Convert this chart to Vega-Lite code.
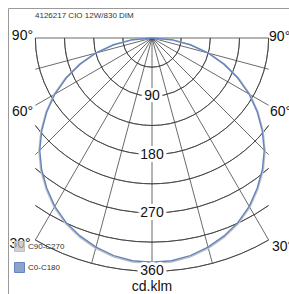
{
  "$schema": "https://vega.github.io/schema/vega-lite/v6.json",
  "width": 285,
  "height": 290,
  "autosize": "none",
  "padding": {"left": 8, "top": 8, "right": -4, "bottom": -4},
  "background": "white",
  "title": {"text": "4126217 CIO 12W/830 DIM", "anchor": "start", "frame": "group", "orient": "top", "offset": 0, "baseline": "middle", "dx": 27, "dy": 16, "font": "Liberation Sans", "fontSize": 8, "fontWeight": "normal", "color": "#333333"},
  "config": {"view": {"stroke": "#9a9a9a", "strokeWidth": 1}, "font": "Liberation Sans"},
  "datasets": {
    "circles": [
      {"r": 45, "t1": 90, "t2": 270},
      {"r": 90, "t1": 90, "t2": 270},
      {"r": 135, "t1": 90, "t2": 270},
      {"r": 180, "t1": 90, "t2": 270},
      {"r": 225, "t1": 126.87, "t2": 233.13},
      {"r": 270, "t1": 138.19, "t2": 221.81},
      {"r": 315, "t1": 145.15, "t2": 214.85},
      {"r": 360, "t1": 150, "t2": 210}
    ],
    "spokes": [
      {"g": -90, "L": 180}, {"g": -75, "L": 186.35}, {"g": -60, "L": 207.85}, {"g": -45, "L": 254.56},
      {"g": -30, "L": 360}, {"g": -15, "L": 360}, {"g": 0, "L": 360}, {"g": 15, "L": 360},
      {"g": 30, "L": 360}, {"g": 45, "L": 254.56}, {"g": 60, "L": 207.85}, {"g": 75, "L": 186.35}, {"g": 90, "L": 180}
    ],
    "curves": [
      {"series": "C90-C270", "g": -90, "I": 0}, {"series": "C90-C270", "g": -85, "I": 31}, {"series": "C90-C270", "g": -80, "I": 61},
      {"series": "C90-C270", "g": -75, "I": 91}, {"series": "C90-C270", "g": -70, "I": 120}, {"series": "C90-C270", "g": -65, "I": 148},
      {"series": "C90-C270", "g": -60, "I": 175}, {"series": "C90-C270", "g": -55, "I": 200}, {"series": "C90-C270", "g": -50, "I": 224},
      {"series": "C90-C270", "g": -45, "I": 247}, {"series": "C90-C270", "g": -40, "I": 267}, {"series": "C90-C270", "g": -35, "I": 285},
      {"series": "C90-C270", "g": -30, "I": 302}, {"series": "C90-C270", "g": -25, "I": 316}, {"series": "C90-C270", "g": -20, "I": 327},
      {"series": "C90-C270", "g": -15, "I": 336}, {"series": "C90-C270", "g": -10, "I": 343}, {"series": "C90-C270", "g": -5, "I": 347},
      {"series": "C90-C270", "g": 0, "I": 348},
      {"series": "C90-C270", "g": 5, "I": 347}, {"series": "C90-C270", "g": 10, "I": 343}, {"series": "C90-C270", "g": 15, "I": 336},
      {"series": "C90-C270", "g": 20, "I": 327}, {"series": "C90-C270", "g": 25, "I": 316}, {"series": "C90-C270", "g": 30, "I": 302},
      {"series": "C90-C270", "g": 35, "I": 285}, {"series": "C90-C270", "g": 40, "I": 267}, {"series": "C90-C270", "g": 45, "I": 247},
      {"series": "C90-C270", "g": 50, "I": 224}, {"series": "C90-C270", "g": 55, "I": 200}, {"series": "C90-C270", "g": 60, "I": 175},
      {"series": "C90-C270", "g": 65, "I": 148}, {"series": "C90-C270", "g": 70, "I": 120}, {"series": "C90-C270", "g": 75, "I": 91},
      {"series": "C90-C270", "g": 80, "I": 61}, {"series": "C90-C270", "g": 85, "I": 31}, {"series": "C90-C270", "g": 90, "I": 0},
      {"series": "C0-C180", "g": -90, "I": 0}, {"series": "C0-C180", "g": -85, "I": 30}, {"series": "C0-C180", "g": -80, "I": 60},
      {"series": "C0-C180", "g": -75, "I": 90}, {"series": "C0-C180", "g": -70, "I": 118}, {"series": "C0-C180", "g": -65, "I": 146},
      {"series": "C0-C180", "g": -60, "I": 173}, {"series": "C0-C180", "g": -55, "I": 198}, {"series": "C0-C180", "g": -50, "I": 222},
      {"series": "C0-C180", "g": -45, "I": 245}, {"series": "C0-C180", "g": -40, "I": 265}, {"series": "C0-C180", "g": -35, "I": 283},
      {"series": "C0-C180", "g": -30, "I": 300}, {"series": "C0-C180", "g": -25, "I": 314}, {"series": "C0-C180", "g": -20, "I": 325},
      {"series": "C0-C180", "g": -15, "I": 334}, {"series": "C0-C180", "g": -10, "I": 341}, {"series": "C0-C180", "g": -5, "I": 345},
      {"series": "C0-C180", "g": 0, "I": 346},
      {"series": "C0-C180", "g": 5, "I": 345}, {"series": "C0-C180", "g": 10, "I": 341}, {"series": "C0-C180", "g": 15, "I": 334},
      {"series": "C0-C180", "g": 20, "I": 325}, {"series": "C0-C180", "g": 25, "I": 314}, {"series": "C0-C180", "g": 30, "I": 300},
      {"series": "C0-C180", "g": 35, "I": 283}, {"series": "C0-C180", "g": 40, "I": 265}, {"series": "C0-C180", "g": 45, "I": 245},
      {"series": "C0-C180", "g": 50, "I": 222}, {"series": "C0-C180", "g": 55, "I": 198}, {"series": "C0-C180", "g": 60, "I": 173},
      {"series": "C0-C180", "g": 65, "I": 146}, {"series": "C0-C180", "g": 70, "I": 118}, {"series": "C0-C180", "g": 75, "I": 90},
      {"series": "C0-C180", "g": 80, "I": 60}, {"series": "C0-C180", "g": 85, "I": 30}, {"series": "C0-C180", "g": 90, "I": 0}
    ],
    "rings": [
      {"v": 90, "lab": "90"}, {"v": 180, "lab": "180"}, {"v": 270, "lab": "270"}, {"v": 360, "lab": "360"}
    ],
    "angles": [
      {"lab": "90°", "g": -91, "r": 200}, {"lab": "90°", "g": 90.5, "r": 197},
      {"lab": "60°", "g": -60.3, "r": 230}, {"lab": "60°", "g": 60, "r": 229},
      {"lab": "30°", "g": -32.6, "r": 378}, {"lab": "30°", "g": 32, "r": 380},
      {"lab": "cd.klm", "g": 0, "r": 384}
    ]
  },
  "layer": [
    {
      "data": {"name": "circles"},
      "transform": [{"calculate": "0", "as": "cx"}, {"calculate": "0", "as": "cy"}],
      "mark": {"type": "arc", "filled": false, "stroke": "#3a3a3a", "strokeWidth": 0.75},
      "encoding": {
        "x": {"field": "cx", "type": "quantitative", "scale": {"domain": [-222.22, 217.59], "nice": false, "zero": false}, "axis": null},
        "y": {"field": "cy", "type": "quantitative", "scale": {"domain": [-401.23, 46.3], "nice": false, "zero": false}, "axis": null},
        "theta": {"field": "t1", "type": "quantitative", "scale": {"type": "linear", "domain": [0, 360], "range": [0, 6.283185307179586]}},
        "theta2": {"field": "t2"},
        "radius": {"field": "r", "type": "quantitative", "scale": {"type": "linear", "domain": [0, 360], "range": [0, 233.28], "zero": true}},
        "radius2": {"field": "r"}
      }
    },
    {
      "data": {"name": "spokes"},
      "transform": [
        {"calculate": "0", "as": "cx"},
        {"calculate": "0", "as": "cy"},
        {"calculate": "datum.L*sin(datum.g*PI/180)", "as": "ex"},
        {"calculate": "-datum.L*cos(datum.g*PI/180)", "as": "ey"}
      ],
      "mark": {"type": "rule", "stroke": "#3a3a3a", "strokeWidth": 0.75},
      "encoding": {
        "x": {"field": "cx", "type": "quantitative", "scale": {"domain": [-222.22, 217.59], "nice": false, "zero": false}, "axis": null},
        "y": {"field": "cy", "type": "quantitative", "scale": {"domain": [-401.23, 46.3], "nice": false, "zero": false}, "axis": null},
        "x2": {"field": "ex"},
        "y2": {"field": "ey"}
      }
    },
    {
      "data": {"name": "curves"},
      "transform": [
        {"calculate": "datum.I*sin(datum.g*PI/180)", "as": "px"},
        {"calculate": "-datum.I*cos(datum.g*PI/180)", "as": "py"}
      ],
      "mark": {"type": "line", "strokeWidth": 1.4},
      "encoding": {
        "x": {"field": "px", "type": "quantitative", "scale": {"domain": [-222.22, 217.59], "nice": false, "zero": false}, "axis": null},
        "y": {"field": "py", "type": "quantitative", "scale": {"domain": [-401.23, 46.3], "nice": false, "zero": false}, "axis": null},
        "order": {"field": "g", "type": "quantitative"},
        "color": {
          "field": "series", "type": "nominal",
          "scale": {"domain": ["C90-C270", "C0-C180"], "range": ["#c0c0c0", "#6584bd"]},
          "legend": {
            "title": null, "orient": "none", "legendX": 6, "legendY": 233,
            "symbolType": "square", "symbolSize": 100, "symbolStrokeWidth": 1,
            "labelFont": "Liberation Sans", "labelFontSize": 8, "labelColor": "#333333", "labelOffset": 3,
            "rowPadding": 6, "padding": 0,
            "encode": {"symbols": {"update": {"fill": {"scale": "color", "field": "value"}, "fillOpacity": {"value": 0.75}}}}
          }
        }
      }
    },
    {
      "data": {"name": "rings"},
      "transform": [{"calculate": "0", "as": "cx"}, {"calculate": "-datum.v", "as": "ny"}],
      "mark": {"type": "text", "fontSize": 14, "font": "Liberation Sans", "align": "center", "baseline": "middle", "fill": "white", "stroke": "white", "strokeWidth": 6},
      "encoding": {
        "x": {"field": "cx", "type": "quantitative", "scale": {"domain": [-222.22, 217.59], "nice": false, "zero": false}, "axis": null},
        "y": {"field": "ny", "type": "quantitative", "scale": {"domain": [-401.23, 46.3], "nice": false, "zero": false}, "axis": null},
        "text": {"field": "lab"}
      }
    },
    {
      "data": {"name": "rings"},
      "transform": [{"calculate": "0", "as": "cx"}, {"calculate": "-datum.v", "as": "ny"}],
      "mark": {"type": "text", "fontSize": 14, "font": "Liberation Sans", "align": "center", "baseline": "middle", "fill": "#111111"},
      "encoding": {
        "x": {"field": "cx", "type": "quantitative", "scale": {"domain": [-222.22, 217.59], "nice": false, "zero": false}, "axis": null},
        "y": {"field": "ny", "type": "quantitative", "scale": {"domain": [-401.23, 46.3], "nice": false, "zero": false}, "axis": null},
        "text": {"field": "lab"}
      }
    },
    {
      "data": {"name": "angles"},
      "transform": [
        {"calculate": "datum.r*sin(datum.g*PI/180)", "as": "lx"},
        {"calculate": "-datum.r*cos(datum.g*PI/180)", "as": "ly"}
      ],
      "mark": {"type": "text", "fontSize": 14, "font": "Liberation Sans", "align": "center", "baseline": "middle", "fill": "#111111"},
      "encoding": {
        "x": {"field": "lx", "type": "quantitative", "scale": {"domain": [-222.22, 217.59], "nice": false, "zero": false}, "axis": null},
        "y": {"field": "ly", "type": "quantitative", "scale": {"domain": [-401.23, 46.3], "nice": false, "zero": false}, "axis": null},
        "text": {"field": "lab"}
      }
    }
  ]
}
